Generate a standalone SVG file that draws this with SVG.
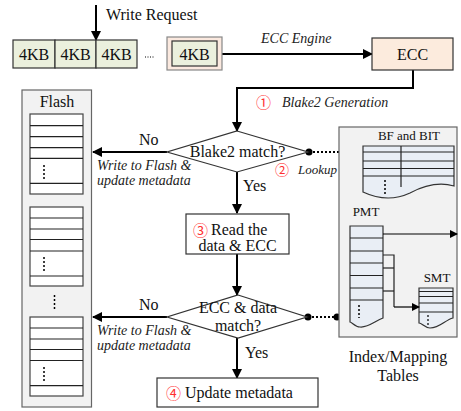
<svg xmlns="http://www.w3.org/2000/svg" width="461" height="411" viewBox="0 0 461 411" font-family="Liberation Serif">
<defs>
<marker id="ah" markerWidth="10" markerHeight="10" refX="9" refY="5" orient="auto" markerUnits="userSpaceOnUse"><path d="M0,0 L10,5 L0,10 Z" fill="#000"/></marker>
<marker id="ahs" markerWidth="8" markerHeight="8" refX="7" refY="4" orient="auto" markerUnits="userSpaceOnUse"><path d="M0,0 L8,4 L0,8 Z" fill="#000"/></marker>
</defs>
<style>
text{font-family:"Liberation Serif","Times New Roman",serif}
.t16{font-size:16px;fill:#111}
.t13{font-size:13px;fill:#111}
.it{font-style:italic;font-size:14px;fill:#222}
.num{font-family:"Noto Sans CJK SC",sans-serif;font-size:15px;fill:#ff3030}
.fl{fill:none;stroke:#000;stroke-width:2}
.dash{fill:none;stroke:#000;stroke-width:2;stroke-dasharray:2 2}
.vd{stroke:#000;stroke-width:1.5;stroke-dasharray:2 2}
.blk{fill:#ebf0dd;stroke:#333;stroke-width:1.2}
.cell{fill:#fff;stroke:#444;stroke-width:1.2}
.tab{fill:#e9eef5;stroke:#333;stroke-width:1.2}
.panel{fill:#f2f2f2;stroke:#666;stroke-width:1.2}
.box{fill:#fff;stroke:#333;stroke-width:1.2}
.thin{stroke:#222;stroke-width:1.2;fill:none}
.ar{stroke:#000;stroke-width:1.2}
</style>

<g id="connectors">
<line class="fl" x1="96" y1="5" x2="96" y2="40" marker-end="url(#ah)"/>
<line class="fl" x1="222" y1="54" x2="372" y2="54" marker-end="url(#ah)"/>
<polyline class="fl" points="413,70 413,88 237,88 237,131" marker-end="url(#ah)"/>
<line class="fl" x1="167" y1="152" x2="93" y2="152" marker-end="url(#ah)"/>
<line class="fl" x1="237" y1="172" x2="237" y2="213" marker-end="url(#ah)"/>
<line class="fl" x1="237" y1="254" x2="237" y2="295" marker-end="url(#ah)"/>
<line class="fl" x1="167" y1="317" x2="93" y2="317" marker-end="url(#ah)"/>
<line class="fl" x1="237" y1="338" x2="237" y2="378" marker-end="url(#ah)"/>
<line class="dash" x1="309" y1="152" x2="360" y2="152"/>
<line class="dash" x1="308" y1="317" x2="337" y2="317"/>
<circle cx="309" cy="152" r="3.5" fill="#000"/>
<circle cx="360" cy="152" r="3.5" fill="#000"/>
<circle cx="308" cy="317" r="3.5" fill="#000"/>
<circle cx="337" cy="317" r="3.5" fill="#000"/>
<text x="106" y="20" class="t16">Write Request</text>
<text x="261" y="43" class="it">ECC Engine</text>
<text x="256" y="108" class="num">①</text>
<text x="282" y="107" class="it">Blake2 Generation</text>
<text x="139" y="145" class="t16">No</text>
<text x="97" y="170" class="it">Write to Flash &amp;</text>
<text x="97" y="185" class="it">update metadata</text>
<text x="275" y="175" class="num" style="font-size:14px">②</text>
<text x="298" y="174" class="it" style="font-size:13px">Lookup</text>
<text x="243" y="191" class="t16">Yes</text>
<text x="139" y="310" class="t16">No</text>
<text x="97" y="335" class="it">Write to Flash &amp;</text>
<text x="97" y="350" class="it">update metadata</text>
<text x="245" y="358" class="t16">Yes</text>
</g>

<g id="requests">
<rect class="blk" x="13" y="40" width="42" height="28"/>
<rect class="blk" x="55" y="40" width="41" height="28"/>
<rect class="blk" x="96" y="40" width="41" height="28"/>
<text x="34" y="60" class="t16" text-anchor="middle">4KB</text>
<text x="75.5" y="60" class="t16" text-anchor="middle">4KB</text>
<text x="116.5" y="60" class="t16" text-anchor="middle">4KB</text>
<line x1="145" y1="57" x2="155" y2="57" stroke="#000" stroke-width="1" stroke-dasharray="1 1.5"/>
</g>

<g id="last-block">
<rect x="167" y="37" width="55" height="33" fill="#fbe9df" stroke="#888" stroke-width="1.2"/>
<rect class="blk" x="172" y="41" width="45" height="25"/>
<text x="194.5" y="60" class="t16" text-anchor="middle">4KB</text>
</g>

<g id="ecc">
<rect x="372" y="38" width="81" height="32" fill="#fcebdd" stroke="#333" stroke-width="1.2"/>
<text x="412.5" y="60" class="t16" text-anchor="middle">ECC</text>
</g>

<g id="blake2-match">
<polygon class="box" points="237,131 308,152 237,172 167,152"/>
<text x="237.5" y="157" class="t16" text-anchor="middle">Blake2 match?</text>
</g>

<g id="read-data">
<rect class="box" x="186" y="214" width="103" height="40"/>
<text x="193" y="236" class="num">③</text>
<text x="211" y="235" class="t16">Read the</text>
<text x="237.5" y="251" class="t16" text-anchor="middle">data &amp; ECC</text>
</g>

<g id="ecc-match">
<polygon class="box" points="238,295 307,317 238,338 167,317"/>
<text x="238" y="313" class="t16" text-anchor="middle">ECC &amp; data</text>
<text x="238" y="331" class="t16" text-anchor="middle">match?</text>
</g>

<g id="update-metadata">
<rect class="box" x="157" y="378" width="161" height="29"/>
<text x="166" y="399" class="num">④</text>
<text x="185" y="398" class="t16">Update metadata</text>
</g>

<g id="flash">
<rect class="panel" x="22" y="90" width="69.5" height="317"/>
<text x="57" y="107" class="t16" text-anchor="middle">Flash</text>
<rect class="cell" x="30" y="114" width="53" height="80"/>
<rect class="cell" x="30" y="207" width="53" height="79"/>
<rect class="cell" x="30" y="317" width="53" height="79"/>
<line class="thin" x1="30" y1="125.7" x2="83" y2="125.7"/>
<line class="thin" x1="30" y1="136.7" x2="83" y2="136.7"/>
<line class="thin" x1="30" y1="147.7" x2="83" y2="147.7"/>
<line class="thin" x1="30" y1="158.3" x2="83" y2="158.3"/>
<line class="thin" x1="30" y1="183.3" x2="83" y2="183.3"/>
<line class="thin" x1="30" y1="218" x2="83" y2="218"/>
<line class="thin" x1="30" y1="229" x2="83" y2="229"/>
<line class="thin" x1="30" y1="239.5" x2="83" y2="239.5"/>
<line class="thin" x1="30" y1="251" x2="83" y2="251"/>
<line class="thin" x1="30" y1="276" x2="83" y2="276"/>
<line class="thin" x1="30" y1="328" x2="83" y2="328"/>
<line class="thin" x1="30" y1="339" x2="83" y2="339"/>
<line class="thin" x1="30" y1="349.5" x2="83" y2="349.5"/>
<line class="thin" x1="30" y1="360.5" x2="83" y2="360.5"/>
<line class="thin" x1="30" y1="385.7" x2="83" y2="385.7"/>
<line class="vd" x1="44" y1="165" x2="44" y2="179"/>
<line class="vd" x1="44" y1="257" x2="44" y2="271"/>
<line class="vd" x1="54.5" y1="295" x2="54.5" y2="309"/>
<line class="vd" x1="44" y1="367" x2="44" y2="381"/>
</g>

<g id="index-tables">
<rect class="panel" x="339" y="127" width="118" height="210"/>
<text x="398" y="362" class="t16" text-anchor="middle">Index/Mapping</text>
<text x="398" y="381" class="t16" text-anchor="middle">Tables</text>
<text x="409" y="140" class="t13" text-anchor="middle">BF and BIT</text>
<text x="366" y="216" class="t13" text-anchor="middle">PMT</text>
<text x="437" y="282" class="t13" text-anchor="middle">SMT</text>
<path class="tab" d="M363,146 H454 V186 C440,182 425,185 410,193 C395,200 380,200 363,192 Z"/>
<path class="tab" d="M350,226 H383 V318 C375,321 368,328 360,327 C355,327 352,322 350,322 Z"/>
<path class="tab" d="M419,288 H453 V318 C445,320 440,328 430,328 C425,328 422,323 419,323 Z"/>
<line class="thin" x1="363" y1="152" x2="454" y2="152"/>
<line class="thin" x1="363" y1="161" x2="454" y2="161"/>
<line class="thin" x1="363" y1="168.5" x2="454" y2="168.5"/>
<line class="thin" x1="363" y1="176" x2="454" y2="176"/>
<line class="thin" x1="401" y1="146" x2="401" y2="187"/>
<line class="thin" x1="350" y1="238" x2="383" y2="238"/>
<line class="thin" x1="350" y1="251" x2="383" y2="251"/>
<line class="thin" x1="350" y1="263" x2="383" y2="263"/>
<line class="thin" x1="350" y1="275.5" x2="383" y2="275.5"/>
<line class="thin" x1="350" y1="288" x2="383" y2="288"/>
<line class="thin" x1="350" y1="300" x2="383" y2="300"/>
<polyline class="thin" points="383,255 394,255 394,307"/>
<line class="thin" x1="383" y1="268" x2="394" y2="268"/>
<line class="thin" x1="383" y1="291" x2="394" y2="291"/>
<line class="thin" x1="419" y1="291.5" x2="453" y2="291.5"/>
<line class="thin" x1="419" y1="296.5" x2="453" y2="296.5"/>
<line class="thin" x1="419" y1="303" x2="453" y2="303"/>
<line class="thin" x1="419" y1="312" x2="453" y2="312"/>
<line class="ar" x1="383" y1="234" x2="457" y2="234" marker-end="url(#ahs)"/>
<line class="ar" x1="394" y1="307" x2="419" y2="307" marker-end="url(#ahs)"/>
<line class="vd" x1="385" y1="180" x2="385" y2="194"/>
<line class="vd" x1="359" y1="305" x2="359" y2="318"/>
<line class="vd" x1="428" y1="315" x2="428" y2="325" style="stroke-width:1.2"/>
</g>
</svg>
